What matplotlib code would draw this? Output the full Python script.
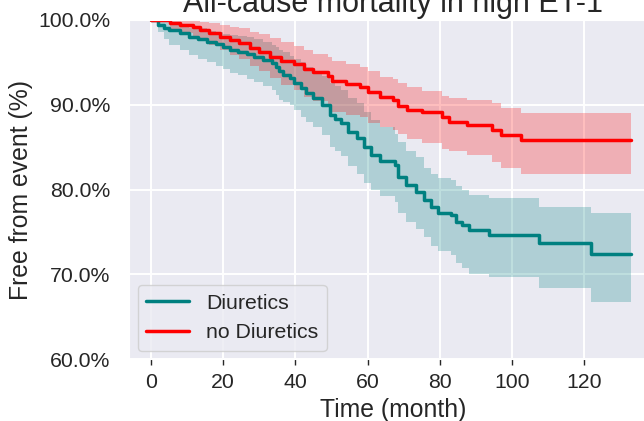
import matplotlib
matplotlib.use("Agg")
import matplotlib.pyplot as plt
from matplotlib.ticker import PercentFormatter
import seaborn as sns

# Kaplan-Meier estimates (time in months, survival in %)
months_diu = [0, 2, 3.5, 5, 8, 10.5, 13, 15.5, 18, 20, 22, 24, 26.5, 28.5, 31,
              33.5, 34.5, 35.5, 36.5, 38.5, 39.5, 41.5, 43, 45, 47.5, 49.5, 51,
              52.5, 54.5, 57, 59, 61, 63.5, 67.5, 68.5, 70.5, 73.5, 75.5, 77.5,
              79.5, 83, 84.5, 86, 88, 93.5, 107.5, 122, 133]
surv_diu = [100, 99.4, 99.1, 98.8, 98.5, 98.0, 97.8, 97.4, 97.2, 96.8, 96.5,
            96.2, 96.0, 95.6, 95.3, 94.9, 94.5, 94.0, 93.5, 93.2, 92.6, 92.0,
            91.4, 90.8, 90.0, 88.8, 88.3, 87.8, 86.8, 86.1, 85.0, 84.1, 83.4,
            82.9, 81.5, 80.5, 79.7, 78.8, 77.9, 77.3, 77.0, 76.2, 75.8, 75.2,
            74.6, 73.7, 72.4, 72.4]
lo_diu = [100, 98.6, 97.8, 97.0, 96.5, 95.9, 95.4, 95.0, 94.6, 94.2, 93.8,
          93.5, 93.0, 92.7, 92.2, 91.8, 91.2, 90.6, 90.3, 90.0, 89.4, 88.6,
          88.0, 87.4, 86.4, 85.0, 84.5, 84.0, 82.8, 81.9, 80.8, 80.0, 79.2,
          78.5, 77.2, 76.2, 75.3, 74.4, 73.4, 72.8, 72.3, 71.3, 70.8, 70.1,
          69.7, 68.4, 66.7, 66.7]
hi_diu = [100, 100, 99.8, 99.6, 99.4, 99.1, 99.0, 98.7, 98.6, 98.3, 98.2,
          98.1, 98.0, 97.7, 97.4, 97.1, 96.8, 96.5, 96.2, 95.8, 95.4, 95.0,
          94.5, 94.0, 93.4, 92.6, 92.2, 91.8, 90.8, 90.2, 89.2, 88.2, 87.4,
          86.6, 85.6, 84.6, 83.8, 82.6, 81.9, 81.4, 81.1, 80.4, 80.0, 79.4,
          79.0, 77.9, 77.2, 77.2]

months_nodiu = [0, 5.3, 8, 11.5, 13.5, 16, 19, 22, 24.5, 27.5, 30, 33, 36,
                39.5, 42.5, 45, 49, 50, 54, 58, 60, 63.5, 67, 68.5, 71, 75,
                80.5, 82.5, 87.5, 94.5, 97, 102.5, 133]
surv_nodiu = [100, 99.6, 99.4, 99.2, 98.8, 98.5, 98.0, 97.6, 97.3, 96.7, 96.2,
              95.6, 95.2, 94.8, 94.2, 93.9, 93.4, 92.8, 92.4, 92.1, 91.5, 90.9,
              90.6, 89.8, 89.4, 89.1, 88.6, 88.0, 87.6, 87.0, 86.4, 85.8, 85.8]
lo_nodiu = [100, 98.9, 98.5, 98.1, 97.6, 97.1, 96.4, 95.9, 95.4, 94.6, 94.0,
            93.1, 92.3, 91.7, 90.9, 90.4, 89.8, 89.2, 88.8, 88.6, 87.9, 87.4,
            87.0, 86.5, 86.0, 85.5, 84.8, 84.5, 84.1, 83.3, 82.5, 81.9, 81.9]
hi_nodiu = [100, 100, 100, 99.9, 99.8, 99.6, 99.4, 99.2, 99.0, 98.6, 98.3,
            97.9, 97.4, 96.9, 96.4, 96.0, 95.6, 95.2, 94.8, 94.4, 94.0, 93.3,
            93.0, 92.6, 92.1, 91.6, 91.0, 90.8, 90.6, 90.2, 89.6, 89.0, 89.0]

labels = ["Diuretics", "no Diuretics"]
colors = ["teal", "red"]

sns.set_style("darkgrid")
plt.rcParams['font.family'] = ['Liberation Sans', 'DejaVu Sans']
plt.rcParams['text.color'] = '.15'
plt.rcParams['axes.labelcolor'] = '.15'
plt.rcParams['xtick.color'] = '.15'
plt.rcParams['ytick.color'] = '.15'

fig = plt.figure(figsize=(6.44, 4.21), dpi=100)
# axes run past the right edge, as in the cropped original
ax = fig.add_axes([0.2008, 0.1466, 0.8186, 0.806])

groups = [
    (months_diu, surv_diu, lo_diu, hi_diu),
    (months_nodiu, surv_nodiu, lo_nodiu, hi_nodiu),
]
for (t, s, lo, hi), lab, col in zip(groups, labels, colors):
    ax.fill_between(t, lo, hi, step='post', color=col, alpha=0.25, linewidth=0)
for (t, s, lo, hi), lab, col in zip(groups, labels, colors):
    ax.step(t, s, where='post', color=col, linewidth=2.5, label=lab)

ax.set_xlim(-6, 140)
ax.set_ylim(60, 100)
ax.set_xticks([0, 20, 40, 60, 80, 100, 120])
ax.set_yticks([60, 70, 80, 90, 100])
ax.yaxis.set_major_formatter(PercentFormatter(100, decimals=1))
ax.grid(color='white', linewidth=1.4)

ax.tick_params(axis='x', bottom=True, length=4, width=1, color='.15',
               labelsize=15.3, pad=6)
ax.tick_params(axis='y', left=False, labelsize=15.3, pad=10)

ax.set_xlabel("Time (month)", fontsize=17.8)
ax.set_ylabel("Free from event (%)", fontsize=17.8)
ax.set_title("All-cause mortality in high ET-1", fontsize=22)

ax.legend(loc='lower left', fontsize=15.3, borderaxespad=0.4)

fig.savefig("out.png", dpi=100)
